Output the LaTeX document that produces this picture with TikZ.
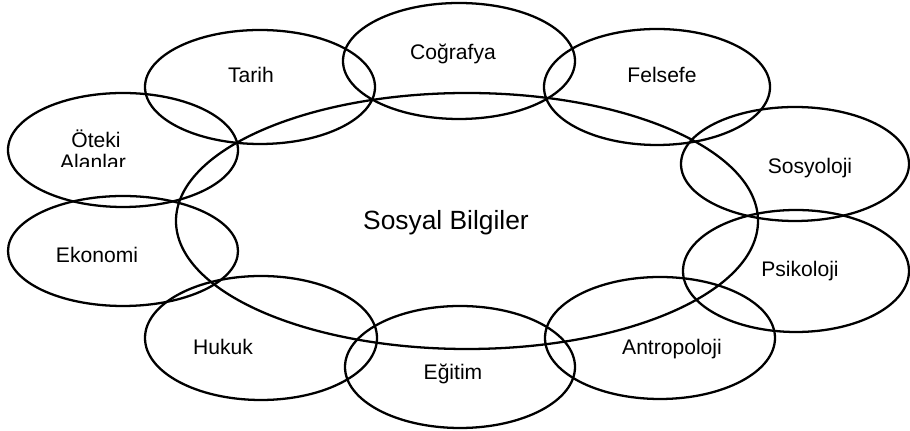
\documentclass[tikz,border=0pt]{standalone}
\usepackage{fontspec}
\setmainfont{Liberation Sans}
\usepackage{tikz}
\usetikzlibrary{positioning}
\tikzstyle{ring} = [line width=1.3pt]
\tikzstyle{field} = [anchor=base, inner sep=0, font=\fontsize{12}{14}\selectfont]
\tikzstyle{core} = [anchor=base, inner sep=0, font=\fontsize{15}{18}\selectfont]

\begin{document}
\begin{tikzpicture}[x=0.02cm, y=-0.02cm]
  \useasboundingbox (0, 0) rectangle (910, 431);

  % central field
  \draw[ring] (467, 221) ellipse [x radius=291, y radius=128];
  \path (446, 230) node[core] (sosyal) {Sosyal Bilgiler};

  % top row
  \draw[ring] (260, 87) ellipse [x radius=115, y radius=57];
  \path (251, 83) node[field] (tarih) {Tarih};
  \draw[ring] (459, 61) ellipse [x radius=116, y radius=58];
  \path (453, 60) node[field] (cografya) {Coğrafya};
  \draw[ring] (657, 87) ellipse [x radius=113, y radius=58];
  \path (662, 83) node[field] (felsefe) {Felsefe};

  % left side
  \draw[ring] (123, 150) ellipse [x radius=115, y radius=57];
  \path (96, 148) node[field] (oteki) {Öteki};
  \begin{scope}
    \clip (0, 150) rectangle (238, 167);
    \path (93, 170) node[field] (alanlar) {Alanlar};
  \end{scope}
  \draw[ring] (123, 251) ellipse [x radius=115, y radius=55];
  \path (97, 263) node[field] (ekonomi) {Ekonomi};

  % right side
  \draw[ring] (795, 164) ellipse [x radius=114, y radius=57];
  \path (810, 174) node[field] (sosyoloji) {Sosyoloji};
  \draw[ring] (796, 271) ellipse [x radius=113, y radius=61];
  \path (800, 277) node[field] (psikoloji) {Psikoloji};

  % bottom row
  \draw[ring] (261, 338) ellipse [x radius=116, y radius=62];
  \path (223, 355) node[field] (hukuk) {Hukuk};
  \draw[ring] (460, 367) ellipse [x radius=115, y radius=61];
  \path (453, 380) node[field] (egitim) {Eğitim};
  \draw[ring] (660, 338) ellipse [x radius=115, y radius=61];
  \path (672, 355) node[field] (antropoloji) {Antropoloji};
\end{tikzpicture}
\end{document}
